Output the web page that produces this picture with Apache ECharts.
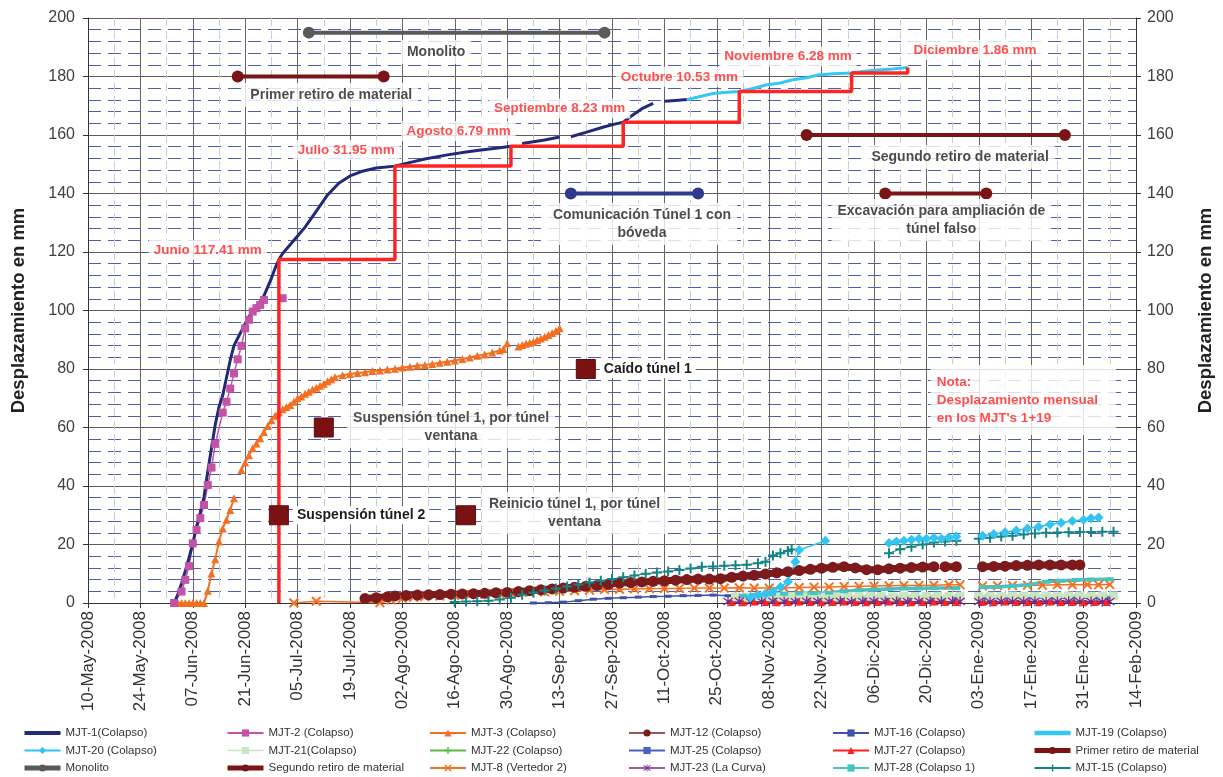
<!DOCTYPE html>
<html>
<head>
<meta charset="utf-8">
<title>Desplazamiento MJT</title>
<script src="https://cdn.jsdelivr.net/npm/echarts/dist/echarts.min.js"></script>
<style>
  html, body { margin: 0; padding: 0; background: #fff; }
  #chart { width: 1223px; height: 777px; }
</style>
</head>
<body>
<div id="chart"></div>
<script>
// ---------- data ----------
const monthAbbr = ['Ene', 'Feb', 'Mar', 'Abr', 'May', 'Jun', 'Jul', 'Ago', 'Sep', 'Oct', 'Nov', 'Dic'];
const axisStart = '2008-05-10';
const axisEnd = '2009-02-14';
const tickDays = 14;
const yTicks = [0, 20, 40, 60, 80, 100, 120, 140, 160, 180, 200];

const mjt1 = [
  ['2008-06-02', 0], ['2008-06-03', 3], ['2008-06-04', 6.7], ['2008-06-05', 11], ['2008-06-06', 15.5],
  ['2008-06-07', 20.4], ['2008-06-08', 26], ['2008-06-09', 31], ['2008-06-10', 36.3], ['2008-06-11', 45],
  ['2008-06-12', 53], ['2008-06-13', 61], ['2008-06-14', 67], ['2008-06-15', 71], ['2008-06-16', 77],
  ['2008-06-17', 83], ['2008-06-18', 88], ['2008-06-19', 90.5], ['2008-06-20', 93], ['2008-06-21', 95.5],
  ['2008-06-22', 97.9], ['2008-06-23', 99.5], ['2008-06-24', 101.5], ['2008-06-25', 103], ['2008-06-26', 105],
  ['2008-06-27', 108], ['2008-06-28', 111], ['2008-06-29', 114.5], ['2008-06-30', 117.41], ['2008-07-01', 119.5],
  ['2008-07-03', 122.5], ['2008-07-05', 125.5], ['2008-07-07', 128.5], ['2008-07-10', 134], ['2008-07-13', 139.5],
  ['2008-07-16', 143.5], ['2008-07-19', 146], ['2008-07-22', 147.5], ['2008-07-26', 148.7], ['2008-07-31', 149.36],
  ['2008-08-03', 150.3], ['2008-08-08', 151.8], ['2008-08-14', 153.2], ['2008-08-19', 154.2], ['2008-08-23', 154.9],
  ['2008-08-27', 155.5], ['2008-08-31', 156.15], ['2008-09-01', null], ['2008-09-03', 157.1], ['2008-09-06', 157.7],
  ['2008-09-09', 158.3], ['2008-09-13', 159.3], ['2008-09-14', null], ['2008-09-16', 159.4], ['2008-09-20', 160.9],
  ['2008-09-25', 162.8], ['2008-09-28', 163.8], ['2008-09-30', 164.38], ['2008-10-02', 166.3], ['2008-10-05', 169.0],
  ['2008-10-08', 170.8], ['2008-10-09', null], ['2008-10-11', 171.5], ['2008-10-14', 171.8], ['2008-10-17', 172.1]
];

const mjt19 = [
  ['2008-10-17', 172.1], ['2008-10-20', 173.0], ['2008-10-24', 174.2], ['2008-10-28', 174.6], ['2008-10-31', 174.91],
  ['2008-11-04', 176.0], ['2008-11-07', 177.1], ['2008-11-11', 177.8], ['2008-11-14', 178.8], ['2008-11-18', 179.6],
  ['2008-11-21', 180.5], ['2008-11-25', 180.9], ['2008-11-30', 181.19], ['2008-12-03', 181.7], ['2008-12-07', 182.2],
  ['2008-12-11', 182.6], ['2008-12-15', 183.05]
];

const mjt2 = [
  ['2008-06-02', 0], ['2008-06-04', 3.9], ['2008-06-05', 7.9], ['2008-06-06', 12.6], ['2008-06-07', 20.4],
  ['2008-06-08', 25], ['2008-06-09', 29], ['2008-06-10', 33.5], ['2008-06-11', 40.3], ['2008-06-12', 46.3],
  ['2008-06-13', 54.4], ['2008-06-15', 65.1], ['2008-06-16', 68.8], ['2008-06-17', 73.3], ['2008-06-18', 78.5],
  ['2008-06-19', 83.3], ['2008-06-20', 87.9], ['2008-06-21', 93.9], ['2008-06-22', 96.8], ['2008-06-23', 99.6],
  ['2008-06-24', 100.8], ['2008-06-25', 101.9], ['2008-06-26', 103.6], ['2008-06-28', null], ['2008-07-01', 104.2]
];

const mjt3 = [
  ['2008-06-02', 0], ['2008-06-03', 0], ['2008-06-04', 0], ['2008-06-05', 0], ['2008-06-06', 0],
  ['2008-06-07', 0], ['2008-06-08', 0], ['2008-06-09', 0], ['2008-06-10', 0], ['2008-06-11', 4.2],
  ['2008-06-12', 10.1], ['2008-06-13', 15], ['2008-06-14', 21], ['2008-06-15', 25.5], ['2008-06-16', 28.5],
  ['2008-06-17', 31.8], ['2008-06-18', 35.8], ['2008-06-19', null], ['2008-06-20', 45.5], ['2008-06-21', 48],
  ['2008-06-22', 50.5], ['2008-06-23', 52.9], ['2008-06-24', 54.5], ['2008-06-25', 56.3], ['2008-06-26', 58.5],
  ['2008-06-27', 60.5], ['2008-06-28', 62.5], ['2008-06-29', 64], ['2008-06-30', 65.2], ['2008-07-01', 66.2],
  ['2008-07-02', 67], ['2008-07-03', 67.7], ['2008-07-04', 68.8], ['2008-07-05', 70], ['2008-07-06', 70.6],
  ['2008-07-07', 71.5], ['2008-07-08', 72.2], ['2008-07-09', 73], ['2008-07-10', 73.6], ['2008-07-11', 74.3],
  ['2008-07-12', 75.0], ['2008-07-13', 75.8], ['2008-07-14', 76.5], ['2008-07-15', 77.2], ['2008-07-17', 77.9],
  ['2008-07-19', 78.3], ['2008-07-21', 78.6], ['2008-07-23', 78.9], ['2008-07-25', 79.3], ['2008-07-27', 79.5],
  ['2008-07-29', 79.8], ['2008-07-31', 80.1], ['2008-08-02', 80.5], ['2008-08-04', 80.8], ['2008-08-06', 81.2],
  ['2008-08-08', 81.4], ['2008-08-10', 81.7], ['2008-08-12', 82.1], ['2008-08-14', 82.5], ['2008-08-16', 82.9],
  ['2008-08-18', 83.4], ['2008-08-20', 83.9], ['2008-08-22', 84.5], ['2008-08-24', 85], ['2008-08-26', 85.6],
  ['2008-08-28', 86.3], ['2008-08-29', 86.8], ['2008-08-30', 88.8], ['2008-08-31', null], ['2008-09-02', 87.7],
  ['2008-09-03', 88.2], ['2008-09-04', 88.6], ['2008-09-05', 89.0], ['2008-09-06', 89.3], ['2008-09-07', 89.9],
  ['2008-09-08', 90.4], ['2008-09-09', 91.0], ['2008-09-10', 91.6], ['2008-09-11', 92.3], ['2008-09-12', 93.0],
  ['2008-09-13', 93.9]
];

const mjt8 = [
  ['2008-07-04', 0], ['2008-07-10', 0.6], ['2008-07-27', 0.1], ['2008-07-30', 1.0], ['2008-08-02', 1.6],
  ['2008-08-05', 2.0], ['2008-08-08', 2.2], ['2008-08-12', 2.4], ['2008-08-16', 2.6], ['2008-08-20', 2.8],
  ['2008-08-24', 3.0], ['2008-08-28', 3.2], ['2008-09-01', 3.4], ['2008-09-05', 3.6], ['2008-09-09', 3.8],
  ['2008-09-13', 4.0], ['2008-09-17', 4.2], ['2008-09-21', 4.4], ['2008-09-25', 4.6], ['2008-09-29', 4.7],
  ['2008-10-03', 4.8], ['2008-10-07', 4.9], ['2008-10-11', 5.0], ['2008-10-15', 5.0], ['2008-10-19', 5.1],
  ['2008-10-23', 5.1], ['2008-10-27', 5.1], ['2008-10-31', 5.2], ['2008-11-04', 5.1], ['2008-11-08', 5.1],
  ['2008-11-12', 5.2], ['2008-11-16', 5.3], ['2008-11-20', 5.4], ['2008-11-24', 5.5], ['2008-11-28', 5.6],
  ['2008-12-02', 5.7], ['2008-12-06', 5.8], ['2008-12-10', 5.9], ['2008-12-14', 6.0], ['2008-12-18', 6.0],
  ['2008-12-22', 6.1], ['2008-12-26', 6.2], ['2008-12-29', 6.2], ['2008-12-31', null], ['2009-01-04', 5.8],
  ['2009-01-08', 5.9], ['2009-01-12', 6.0], ['2009-01-16', 6.1], ['2009-01-20', 6.1], ['2009-01-24', 6.2],
  ['2009-01-28', 6.2], ['2009-02-01', 6.3], ['2009-02-04', 6.2], ['2009-02-07', 6.3]
];

const mjt12 = [
  ['2008-07-23', 1.5], ['2008-07-26', 1.8], ['2008-07-29', 2.1], ['2008-07-31', 2.4], ['2008-08-03', 2.6],
  ['2008-08-06', 2.7], ['2008-08-09', 2.8], ['2008-08-12', 2.9], ['2008-08-15', 3.0], ['2008-08-18', 3.1],
  ['2008-08-21', 3.2], ['2008-08-24', 3.3], ['2008-08-27', 3.5], ['2008-08-30', 3.6], ['2008-09-02', 3.9],
  ['2008-09-05', 4.2], ['2008-09-08', 4.5], ['2008-09-11', 4.8], ['2008-09-14', 5.1], ['2008-09-17', 5.4],
  ['2008-09-20', 5.7], ['2008-09-23', 6.0], ['2008-09-26', 6.4], ['2008-09-29', 6.8], ['2008-10-02', 7.0],
  ['2008-10-05', 7.2], ['2008-10-08', 7.4], ['2008-10-11', 7.6], ['2008-10-14', 7.8], ['2008-10-17', 8.0],
  ['2008-10-20', 8.2], ['2008-10-23', 8.2], ['2008-10-26', 8.3], ['2008-10-29', 8.8], ['2008-11-01', 9.2],
  ['2008-11-04', 9.5], ['2008-11-07', 9.9], ['2008-11-10', 10.3], ['2008-11-13', 10.7], ['2008-11-16', 11.1],
  ['2008-11-19', 11.5], ['2008-11-22', 11.9], ['2008-11-25', 12.2], ['2008-11-28', 12.4], ['2008-12-01', 12.0],
  ['2008-12-04', 11.4], ['2008-12-07', 11.4], ['2008-12-10', 11.7], ['2008-12-13', 11.9], ['2008-12-16', 12.1],
  ['2008-12-19', 12.3], ['2008-12-22', 12.4], ['2008-12-24', null], ['2008-12-25', 12.4], ['2008-12-28', 12.4],
  ['2008-12-31', null], ['2009-01-04', 12.4], ['2009-01-07', 12.5], ['2009-01-10', 12.6], ['2009-01-13', 12.8],
  ['2009-01-16', 12.9], ['2009-01-19', 13.0], ['2009-01-22', 13.0], ['2009-01-25', 13.0], ['2009-01-28', 13.0],
  ['2009-01-30', 13.0]
];

const mjt15 = [
  ['2008-08-16', 0.3], ['2008-08-19', 0.5], ['2008-08-22', 0.6], ['2008-08-25', 0.8], ['2008-08-28', 1.2],
  ['2008-08-31', 1.8], ['2008-09-03', 2.8], ['2008-09-06', 3.6], ['2008-09-09', 4.3], ['2008-09-12', 5.0],
  ['2008-09-15', 5.6], ['2008-09-18', 6.3], ['2008-09-21', 7.0], ['2008-09-24', 7.6], ['2008-09-27', 8.2],
  ['2008-09-30', 8.8], ['2008-10-03', 9.4], ['2008-10-06', 10.0], ['2008-10-09', 10.4], ['2008-10-12', 10.8],
  ['2008-10-15', 11.3], ['2008-10-18', 11.8], ['2008-10-21', 12.4], ['2008-10-24', 12.5], ['2008-10-27', 12.7],
  ['2008-10-30', 12.9], ['2008-11-02', 13.1], ['2008-11-05', 13.6], ['2008-11-07', 14.1], ['2008-11-09', 16.2],
  ['2008-11-11', 17.0], ['2008-11-13', 17.8], ['2008-11-14', 18.3], ['2008-11-16', null], ['2008-12-10', 17.0],
  ['2008-12-13', 18.4], ['2008-12-16', 19.2], ['2008-12-19', 20.0], ['2008-12-22', 20.7], ['2008-12-25', 21.0],
  ['2008-12-28', 21.3], ['2008-12-31', null], ['2009-01-03', 22.0], ['2009-01-06', 22.3], ['2009-01-09', 22.7],
  ['2009-01-12', 23.0], ['2009-01-15', 23.4], ['2009-01-18', 23.8], ['2009-01-21', 24.0], ['2009-01-24', 24.1],
  ['2009-01-27', 24.2], ['2009-01-30', 24.3], ['2009-02-02', 24.3], ['2009-02-05', 24.4], ['2009-02-08', 24.4]
];

const mjt20 = [
  ['2008-11-03', 2.0], ['2008-11-05', 2.7], ['2008-11-07', 3.2], ['2008-11-09', 4.0], ['2008-11-11', 5.5],
  ['2008-11-13', 7.3], ['2008-11-15', 14.1], ['2008-11-16', 18.1], ['2008-11-23', 21.3], ['2008-11-25', null],
  ['2008-12-10', 20.5], ['2008-12-12', 21.0], ['2008-12-14', 21.3], ['2008-12-16', 21.6], ['2008-12-18', 22.0],
  ['2008-12-20', 22.0], ['2008-12-22', 22.3], ['2008-12-24', 22.0], ['2008-12-26', 22.5], ['2008-12-28', 22.7],
  ['2008-12-31', null], ['2009-01-04', 23.0], ['2009-01-07', 23.6], ['2009-01-10', 24.2], ['2009-01-13', 24.8],
  ['2009-01-16', 25.5], ['2009-01-19', 26.1], ['2009-01-22', 26.8], ['2009-01-25', 27.4], ['2009-01-28', 28.0],
  ['2009-01-31', 28.5], ['2009-02-02', 29.0], ['2009-02-04', 29.2]
];

const mjt28 = [
  ['2008-11-01', 2.5], ['2008-11-04', 2.7], ['2008-11-08', 3.0], ['2008-11-12', 3.2], ['2008-11-16', 3.3],
  ['2008-11-20', 3.4], ['2008-11-24', 3.5], ['2008-11-28', 4.0], ['2008-12-02', 4.4], ['2008-12-06', 4.6],
  ['2008-12-10', 4.8], ['2008-12-14', 5.0], ['2008-12-18', 5.0], ['2008-12-22', 5.1], ['2008-12-28', 5.1],
  ['2008-12-31', null], ['2009-01-04', 5.4], ['2009-01-08', 5.5], ['2009-01-12', 5.8], ['2009-01-16', 6.2],
  ['2009-01-21', 7.3], ['2009-01-25', 7.6], ['2009-01-29', 7.9], ['2009-02-02', 8.0], ['2009-02-07', 8.1]
];

const mjt21 = [
  ['2008-10-30', 2.1], ['2008-11-02', 2.0], ['2008-11-05', 2.2], ['2008-11-08', 2.1], ['2008-11-11', 2.0],
  ['2008-11-14', 2.2], ['2008-11-17', 2.1], ['2008-11-20', 2.2], ['2008-11-23', 2.0], ['2008-11-26', 2.1],
  ['2008-11-29', 2.2], ['2008-12-02', 2.1], ['2008-12-05', 2.3], ['2008-12-08', 2.2], ['2008-12-11', 2.1],
  ['2008-12-14', 2.3], ['2008-12-17', 2.2], ['2008-12-20', 2.2], ['2008-12-23', 2.3], ['2008-12-26', 2.2],
  ['2008-12-29', 2.3], ['2008-12-31', null], ['2009-01-03', 2.2], ['2009-01-06', 2.3], ['2009-01-09', 2.2],
  ['2009-01-12', 2.4], ['2009-01-15', 2.3], ['2009-01-18', 2.3], ['2009-01-21', 2.4], ['2009-01-24', 2.3],
  ['2009-01-27', 2.4], ['2009-01-30', 2.4], ['2009-02-02', 2.3], ['2009-02-05', 2.4], ['2009-02-08', 2.4]
];

const mjt22 = [
  ['2008-11-02', 1.4], ['2008-11-10', 1.5], ['2008-11-18', 1.5], ['2008-11-26', 1.6], ['2008-12-04', 1.6],
  ['2008-12-12', 1.7], ['2008-12-20', 1.7], ['2008-12-28', 1.8], ['2008-12-31', null], ['2009-01-05', 1.8],
  ['2009-01-13', 1.9], ['2009-01-21', 1.9], ['2009-01-29', 2.0], ['2009-02-06', 2.0]
];

const mjt16 = [
  ['2008-09-06', 0], ['2008-09-10', 0.1], ['2008-09-14', 0.3], ['2008-09-18', 0.8], ['2008-09-22', 1.3],
  ['2008-09-26', 1.6], ['2008-09-30', 1.8], ['2008-10-04', 2.0], ['2008-10-08', 2.2], ['2008-10-12', 2.3],
  ['2008-10-16', 2.5], ['2008-10-20', 2.6], ['2008-10-24', 2.7], ['2008-10-28', 2.5], ['2008-11-01', 2.2]
];

const mjt25 = [
  ['2008-11-03', 1.0], ['2008-11-09', 1.0], ['2008-11-15', 1.1], ['2008-11-21', 1.1], ['2008-11-27', 1.2],
  ['2008-12-03', 1.2], ['2008-12-09', 1.3], ['2008-12-15', 1.3], ['2008-12-21', 1.3], ['2008-12-27', 1.4],
  ['2008-12-31', null], ['2009-01-04', 1.4], ['2009-01-10', 1.4], ['2009-01-16', 1.5], ['2009-01-22', 1.5],
  ['2009-01-28', 1.5], ['2009-02-03', 1.6], ['2009-02-07', 1.6]
];

const mjt23 = [
  ['2008-10-28', 0.5], ['2008-10-31', 0.6], ['2008-11-03', 0.4], ['2008-11-06', 0.5], ['2008-11-09', 0.6],
  ['2008-11-12', 0.5], ['2008-11-15', 0.4], ['2008-11-18', 0.6], ['2008-11-21', 0.5], ['2008-11-24', 0.5],
  ['2008-11-27', 0.6], ['2008-11-30', 0.4], ['2008-12-03', 0.5], ['2008-12-06', 0.6], ['2008-12-09', 0.5],
  ['2008-12-12', 0.5], ['2008-12-15', 0.4], ['2008-12-18', 0.6], ['2008-12-21', 0.5], ['2008-12-24', 0.5],
  ['2008-12-27', 0.6], ['2008-12-29', 0.5], ['2008-12-31', null], ['2009-01-03', 0.5], ['2009-01-06', 0.4],
  ['2009-01-09', 0.6], ['2009-01-12', 0.5], ['2009-01-15', 0.5], ['2009-01-18', 0.6], ['2009-01-21', 0.4],
  ['2009-01-24', 0.5], ['2009-01-27', 0.6], ['2009-01-30', 0.5], ['2009-02-02', 0.5], ['2009-02-05', 0.4],
  ['2009-02-07', 0.5]
];

const mjt27 = [
  ['2008-10-29', 0.2], ['2008-11-01', 0.1], ['2008-11-04', 0.3], ['2008-11-07', 0.2], ['2008-11-10', 0.1],
  ['2008-11-13', 0.2], ['2008-11-16', 0.3], ['2008-11-19', 0.2], ['2008-11-22', 0.1], ['2008-11-25', 0.2],
  ['2008-11-28', 0.3], ['2008-12-01', 0.2], ['2008-12-04', 0.1], ['2008-12-07', 0.2], ['2008-12-10', 0.3],
  ['2008-12-13', 0.2], ['2008-12-16', 0.1], ['2008-12-19', 0.2], ['2008-12-22', 0.3], ['2008-12-25', 0.2],
  ['2008-12-28', 0.2], ['2008-12-31', null], ['2009-01-04', 0.2], ['2009-01-07', 0.1], ['2009-01-10', 0.3],
  ['2009-01-13', 0.2], ['2009-01-16', 0.2], ['2009-01-19', 0.1], ['2009-01-22', 0.3], ['2009-01-25', 0.2],
  ['2009-01-28', 0.2], ['2009-01-31', 0.1], ['2009-02-03', 0.2], ['2009-02-06', 0.2]
];

// activity bars (start, end, level)
const monolito = [['2008-07-08', 195], ['2008-09-25', 195]];
const primerRetiro = [['2008-06-19', 180], ['2008-07-28', 180]];
const segundoRetiro = [['2008-11-18', 160], ['2009-01-26', 160]];
const comunicacion = [['2008-09-16', 140], ['2008-10-20', 140]];
const excavacion = [['2008-12-09', 140], ['2009-01-05', 140]];

// events (square markers)
const eventNames = ['Suspensión túnel 2', 'Suspensión túnel 1', 'Reinicio túnel 1', 'Caído túnel 1'];
const eventDates = ['2008-06-30', '2008-07-12', '2008-08-19', '2008-09-20'];
const eventLevels = [30, 60, 30, 80];

// monthly displacement of MJT-1 + MJT-19
const meses = ['Junio', 'Julio', 'Agosto', 'Septiembre', 'Octubre', 'Noviembre', 'Diciembre'];
const cierreMes = ['2008-06-30', '2008-07-31', '2008-08-31', '2008-09-30', '2008-10-31', '2008-11-30', '2008-12-15'];
const desplMensual = [117.41, 31.95, 6.79, 8.23, 10.53, 6.28, 1.86];

// ---------- helpers ----------
const FONT = '"Liberation Sans", Arial, sans-serif';
const DAY = 864e5;
const utc = s => { const p = s.split('-').map(Number); return Date.UTC(p[0], p[1] - 1, p[2]); };
const BASE = utc(axisStart);
const toDay = s => (utc(s) - BASE) / DAY;
const pts = arr => arr.map(([d, v]) => [toDay(d), v === null ? '-' : v]);
const pad2 = n => (n < 10 ? '0' : '') + n;
const fmtDate = v => {
  const dt = new Date(BASE + v * DAY);
  return pad2(dt.getUTCDate()) + '-' + monthAbbr[dt.getUTCMonth()] + '-' + dt.getUTCFullYear();
};

// monthly step line
const stepData = [[cierreMes[0], 0]];
let acum = 0;
desplMensual.forEach((inc, i) => {
  acum += inc;
  stepData.push([cierreMes[i], +acum.toFixed(2)]);
  if (i + 1 < cierreMes.length) stepData.push([cierreMes[i + 1], +acum.toFixed(2)]);
});

const SYM_PLUS = 'path://M4,0H6V4H10V6H6V10H4V6H0V4H4Z';
const SYM_CROSS = 'path://M1.4,0L5,3.6L8.6,0L10,1.4L6.4,5L10,8.6L8.6,10L5,6.4L1.4,10L0,8.6L3.6,5L0,1.4Z';
const SYM_STAR = 'path://M4.4,0H5.6V10H4.4Z M0.3,2L1,1L9.7,8L9,9Z M0.3,8L9,1L9.7,2L1,9Z';

function lineSeries(name, data, color, opt) {
  opt = opt || {};
  return {
    name, type: 'line', data: pts(data), z: opt.z || 3,
    symbol: opt.symbol || 'none', symbolSize: opt.size || 7,
    showSymbol: !!opt.symbol, connectNulls: false,
    lineStyle: { color, width: opt.width || 1.5 },
    itemStyle: { color, borderWidth: 0, opacity: 1 },
    emphasis: { disabled: true }, silent: true
  };
}

// text blocks anchored in data coordinates
const labelAnchor = {
  'Monolito': ['2008-08-11', 188.4],
  'Primer retiro de material': ['2008-07-14', 173.7],
  'Comunicación Túnel 1 con\nbóveda': ['2008-10-05', 129.6],
  'Segundo retiro de material': ['2008-12-29', 152.5],
  'Excavación para ampliación de\ntúnel falso': ['2008-12-24', 130.9],
  'Suspensión túnel 1, por túnel\nventana': ['2008-08-15', 60.2],
  'Reinicio túnel 1, por túnel\nventana': ['2008-09-17', 30.8]
};
const mesAnchor = [['2008-06-11', 120.7], ['2008-07-18', 154.9], ['2008-08-17', 161.4], ['2008-09-13', 169.1],
                   ['2008-10-15', 179.9], ['2008-11-13', 186.8], ['2009-01-02', 189.1]];
const notaAnchor = ['2008-12-21', 69.4];

const blackText = Object.keys(labelAnchor).map(t => ({
  value: [toDay(labelAnchor[t][0]), labelAnchor[t][1]],
  label: { show: true, formatter: t, position: 'inside', align: 'center', verticalAlign: 'middle',
           color: '#1e1e1e', fontSize: 14, fontWeight: 'bold', lineHeight: 18, fontFamily: FONT,
           backgroundColor: '#fff', padding: [3, 6] }
}));
const redText = meses.map((m, i) => ({
  value: [toDay(mesAnchor[i][0]), mesAnchor[i][1]],
  label: { show: true, formatter: m + ' ' + desplMensual[i].toFixed(2) + ' mm', position: 'inside',
           align: 'center', verticalAlign: 'middle', color: '#ff2222', fontSize: 13.5, fontWeight: 'bold',
           fontFamily: FONT, backgroundColor: '#fff', padding: [3, 5] }
}));
redText.push({
  value: [toDay(notaAnchor[0]), notaAnchor[1]],
  label: { show: true, formatter: "Nota:\nDesplazamiento mensual\nen los MJT's 1+19", position: 'right',
           distance: 0, align: 'left', verticalAlign: 'middle', color: '#ff2222', fontSize: 13.5,
           fontWeight: 'bold', lineHeight: 18, fontFamily: FONT, backgroundColor: '#fff',
           padding: [7, 18, 9, 6] }
});

const eventData = eventNames.map((n, i) => ({
  value: [toDay(eventDates[i]), eventLevels[i]],
  label: { show: n === 'Suspensión túnel 2' || n === 'Caído túnel 1', formatter: n, position: 'right',
           distance: 4, color: '#1e1e1e', fontSize: 14, fontWeight: 'bold', fontFamily: FONT,
           backgroundColor: '#fff', padding: [2, 4] }
}));

const legendCols = [
  ['MJT-1(Colapso)', 'MJT-20 (Colapso)', 'Monolito'],
  ['MJT-2 (Colapso)', 'MJT-21(Colapso)', 'Segundo retiro de material'],
  ['MJT-3 (Colapso)', 'MJT-22 (Colapso)', 'MJT-8 (Vertedor 2)'],
  ['MJT-12 (Colapso)', 'MJT-25 (Colapso)', 'MJT-23 (La Curva)'],
  ['MJT-16 (Colapso)', 'MJT-27 (Colapso)', 'MJT-28 (Colapso 1)'],
  ['MJT-19 (Colapso)', 'Primer retiro de material', 'MJT-15 (Colapso)']
];
const legendLeft = [22, 225, 429, 628, 832, 1032];
// legend keys: plain thick lines for the continuous curves, thin lines for the marker bands
const legendKey = {
  'MJT-1(Colapso)': { lineStyle: { width: 4 }, itemStyle: { opacity: 0 } },
  'MJT-19 (Colapso)': { lineStyle: { width: 4.5 }, itemStyle: { opacity: 0 } },
  'MJT-12 (Colapso)': { lineStyle: { width: 1.5 } },
  'MJT-28 (Colapso 1)': { lineStyle: { width: 2 } },
  'MJT-21(Colapso)': { lineStyle: { width: 1.5 } },
  'MJT-23 (La Curva)': { lineStyle: { width: 1.5 } },
  'Monolito': { lineStyle: { width: 5 } },
  'Primer retiro de material': { lineStyle: { width: 5 } },
  'Segundo retiro de material': { lineStyle: { width: 5 } }
};

const series = [
  lineSeries('MJT-22 (Colapso)', mjt22, '#5cb848', { symbol: SYM_PLUS, size: 8, width: 1 }),
  lineSeries('MJT-25 (Colapso)', mjt25, '#4a62bd', { symbol: 'rect', size: [7, 3], width: 1 }),
  lineSeries('MJT-16 (Colapso)', mjt16, '#3d52a8', { symbol: 'rect', size: [7, 3], width: 1.5 }),
  lineSeries('MJT-21(Colapso)', mjt21, '#c9e5c1', { symbol: 'rect', size: 9, width: 4 }),
  lineSeries('MJT-8 (Vertedor 2)', mjt8, '#f36f21', { symbol: SYM_CROSS, size: 10, width: 1.5 }),
  lineSeries('MJT-28 (Colapso 1)', mjt28, '#45c4c4', { symbol: 'rect', size: [8, 4], width: 3.5 }),
  lineSeries('MJT-12 (Colapso)', mjt12, '#7d1a1c', { symbol: 'circle', size: 11, width: 7 }),
  lineSeries('MJT-23 (La Curva)', mjt23, '#7b2b8c', { symbol: SYM_STAR, size: 10, width: 3 }),
  lineSeries('MJT-27 (Colapso)', mjt27, '#ff2020', { symbol: 'triangle', size: 7, width: 1 }),
  lineSeries('MJT-15 (Colapso)', mjt15, '#138585', { symbol: SYM_PLUS, size: 10, width: 1 }),
  lineSeries('MJT-20 (Colapso)', mjt20, '#33c4f2', { symbol: 'diamond', size: 10, width: 1.5 }),
  lineSeries('MJT-3 (Colapso)', mjt3, '#f36f21', { symbol: 'triangle', size: 8, width: 2 }),
  lineSeries('MJT-2 (Colapso)', mjt2, '#c353a6', { symbol: 'rect', size: 8, width: 1.5 }),
  lineSeries('MJT-1(Colapso)', mjt1, '#222a78', { width: 3 }),
  lineSeries('MJT-19 (Colapso)', mjt19, '#38c6f4', { width: 3 }),
  lineSeries('Mensual', stepData, '#ff2424', { width: 3.5, z: 4 }),
  lineSeries('Monolito', monolito, '#5a5a5a', { symbol: 'circle', size: 12, width: 4, z: 5 }),
  lineSeries('Primer retiro de material', primerRetiro, '#7b1416', { symbol: 'circle', size: 12, width: 4, z: 5 }),
  lineSeries('Segundo retiro de material', segundoRetiro, '#7b1416', { symbol: 'circle', size: 12, width: 4, z: 5 }),
  lineSeries('Comunicación', comunicacion, '#2e3a8e', { symbol: 'circle', size: 12, width: 4, z: 5 }),
  lineSeries('Excavación', excavacion, '#7b1416', { symbol: 'circle', size: 12, width: 4, z: 5 }),
  {
    name: 'Eventos', type: 'scatter', data: eventData, symbol: 'rect', symbolSize: 19, z: 7,
    itemStyle: { color: '#7a1214', borderColor: '#5c0d0f', borderWidth: 1, opacity: 1 }, silent: true
  },
  {
    name: 'Textos', type: 'scatter', data: blackText.concat(redText), symbolSize: 1, z: 6,
    itemStyle: { color: 'rgba(0,0,0,0)' }, silent: true
  }
];

const chart = echarts.init(document.getElementById('chart'), null, { renderer: 'canvas' });
chart.setOption({
  animation: false,
  backgroundColor: '#ffffff',
  textStyle: { fontFamily: FONT },
  grid: { left: 88, right: 86, top: 18, bottom: 174 },
  xAxis: {
    type: 'value', min: 0, max: toDay(axisEnd), interval: tickDays,
    axisLine: { show: true, onZero: false, lineStyle: { color: '#333', width: 1 } },
    axisTick: { show: true, length: 5, lineStyle: { color: '#333' } },
    axisLabel: { rotate: 90, fontSize: 17, color: '#333', margin: 8, formatter: fmtDate },
    splitLine: { show: true, lineStyle: { color: '#666', width: 1 } },
    minorTick: { show: false, splitNumber: 2 },
    minorSplitLine: { show: true, lineStyle: { color: '#cccccc', width: 1, type: [8, 5] } }
  },
  yAxis: [0, 1].map(k => ({
    type: 'value', min: yTicks[0], max: yTicks[yTicks.length - 1], interval: yTicks[1] - yTicks[0],
    position: k ? 'right' : 'left',
    name: 'Desplazamiento en mm', nameLocation: 'middle', nameGap: 60, nameRotate: 90,
    nameTextStyle: { fontSize: 18.5, fontWeight: 'bold', color: '#222', fontFamily: FONT },
    axisLine: { show: true, lineStyle: { color: '#333' } },
    axisTick: { show: true, length: 5, lineStyle: { color: '#333' } },
    axisLabel: { fontSize: 16, color: '#404040', margin: k ? 11 : 13 },
    splitLine: { show: !k, lineStyle: { color: '#5e5e5e', width: 1 } },
    minorTick: { show: false, splitNumber: 5 },
    minorSplitLine: { show: !k, lineStyle: { color: '#4d5fb3', width: 1, type: [13, 7] } }
  })),
  legend: legendCols.map((col, i) => ({
    data: col.map(n => legendKey[n] ? Object.assign({ name: n }, legendKey[n]) : n),
    orient: 'vertical', left: legendLeft[i], top: 727, padding: 0,
    itemWidth: 36, itemHeight: 9, itemGap: 5.5, selectedMode: false,
    textStyle: { fontSize: 11.5, color: '#333', fontFamily: FONT, lineHeight: 12 }
  })),
  series: series
});
</script>
</body>
</html>
